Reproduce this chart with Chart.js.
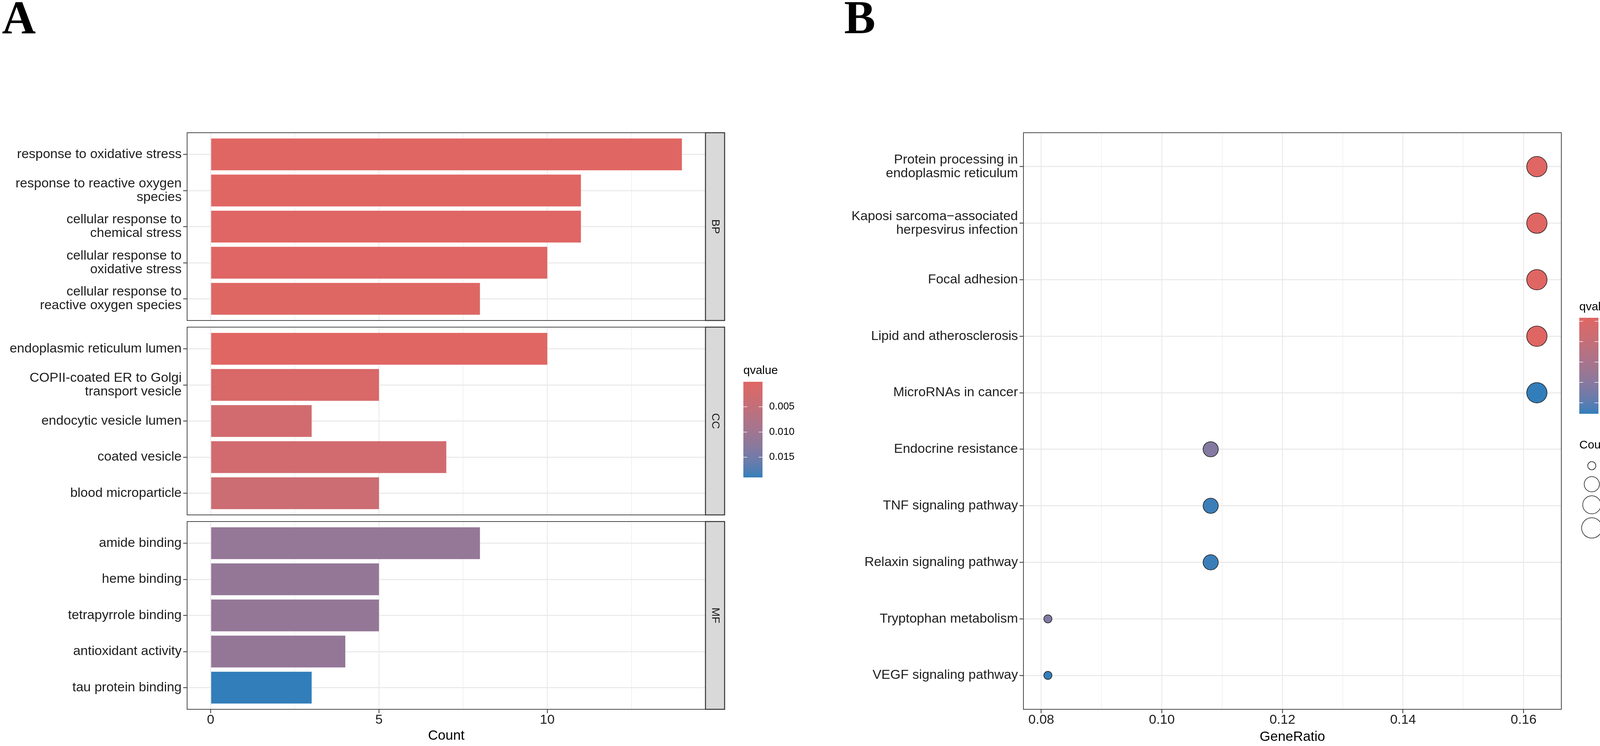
<!DOCTYPE html>
<html>
<head>
<meta charset="utf-8">
<script src="https://cdn.jsdelivr.net/npm/chart.js@4.4.1/dist/chart.umd.min.js"></script>
<style>
html,body{margin:0;padding:0;background:#ffffff;width:4211px;height:1911px;overflow:hidden;}
canvas{position:absolute;left:0;top:0;}
</style>
</head>
<body>
<canvas id="bp" width="4211" height="1911"></canvas>
<canvas id="cc" width="4211" height="1911"></canvas>
<canvas id="mf" width="4211" height="1911"></canvas>
<canvas id="kegg" width="4211" height="1911"></canvas>
<script>
// ================= DATA =================
// Panel A – GO enrichment (facets BP / CC / MF)
const bpTerms = ["response to oxidative stress", "response to reactive oxygen\nspecies", "cellular response to\nchemical stress", "cellular response to\noxidative stress", "cellular response to\nreactive oxygen species"];
const bpCounts = [14, 11, 11, 10, 8];
const bpQvalues = [0.00005, 0.00012, 0.00018, 0.0002, 0.00035];

const ccTerms = ["endoplasmic reticulum lumen", "COPII-coated ER to Golgi\ntransport vesicle", "endocytic vesicle lumen", "coated vesicle", "blood microparticle"];
const ccCounts = [10, 5, 3, 7, 5];
const ccQvalues = [0.00008, 0.0012, 0.0027, 0.0027, 0.0035];

const mfTerms = ["amide binding", "heme binding", "tetrapyrrole binding", "antioxidant activity", "tau protein binding"];
const mfCounts = [8, 5, 5, 4, 3];
const mfQvalues = [0.0113, 0.0114, 0.0114, 0.0115, 0.0190];

const countTicks = [0, 5, 10];
const countMinorTicks = [2.5, 7.5, 12.5];
const goQTicks = [0.005, 0.010, 0.015];

// Panel B – KEGG enrichment
const keggTerms = ["Protein processing in\nendoplasmic reticulum", "Kaposi sarcoma\u2212associated\nherpesvirus infection", "Focal adhesion", "Lipid and atherosclerosis", "MicroRNAs in cancer", "Endocrine resistance", "TNF signaling pathway", "Relaxin signaling pathway", "Tryptophan metabolism", "VEGF signaling pathway"];
const keggGeneRatio = [0.1622, 0.1622, 0.1622, 0.1622, 0.1622, 0.1081, 0.1081, 0.1081, 0.0811, 0.0811];
const keggCounts = [6, 6, 6, 6, 6, 4, 4, 4, 3, 3];
const keggQvalues = [0.00707, 0.00707, 0.00708, 0.00709, 0.01885, 0.0153, 0.0186, 0.0186, 0.0156, 0.0188];

const ratioTicks = [0.08, 0.10, 0.12, 0.14, 0.16];
const ratioMinorTicks = [0.09, 0.11, 0.13, 0.15];
const keggQTicks = [0.0075, 0.0100, 0.0125, 0.0150, 0.0175];
const sizeLegendCounts = [3, 4, 5, 6];

// ================= STYLE HELPERS =================
const FONT = '"Liberation Sans", Arial, Helvetica, sans-serif';
const TEXT = '#1e1e1e';
const GRID = '#ebebeb';
const AXIS = '#333333';
const W = 4211, H = 1911;

// ggplot-like gradient (Lab interpolation) from low "#e06663" to high "#327eba"
function hexToRgb(h){h=h.replace('#','');return [0,2,4].map(i=>parseInt(h.substr(i,2),16));}
function toLin(c){c/=255;return c<=0.04045?c/12.92:Math.pow((c+0.055)/1.055,2.4);}
function toSrgb(v){v=v<=0.0031308?12.92*v:1.055*Math.pow(v,1/2.4)-0.055;return Math.round(Math.min(1,Math.max(0,v))*255);}
const WX=0.95047, WY=1.0, WZ=1.08883;
function fLab(t){return t>0.008856?Math.cbrt(t):7.787*t+16/116;}
function fInv(t){const t3=t*t*t;return t3>0.008856?t3:(t-16/116)/7.787;}
function rgbToLab(rgb){
  const [r,g,b]=rgb.map(toLin);
  const X=(0.4124564*r+0.3575761*g+0.1804375*b)/WX;
  const Y=(0.2126729*r+0.7151522*g+0.0721750*b)/WY;
  const Z=(0.0193339*r+0.1191920*g+0.9503041*b)/WZ;
  const fx=fLab(X),fy=fLab(Y),fz=fLab(Z);
  return [116*fy-16,500*(fx-fy),200*(fy-fz)];
}
function labToRgb(lab){
  const [L,a,b]=lab;
  const fy=(L+16)/116,fx=fy+a/500,fz=fy-b/200;
  const X=fInv(fx)*WX,Y=fInv(fy)*WY,Z=fInv(fz)*WZ;
  const r=3.2404542*X-1.5371385*Y-0.4985314*Z;
  const g=-0.9692660*X+1.8760108*Y+0.0415560*Z;
  const bb=0.0556434*X-0.2040259*Y+1.0572252*Z;
  return [toSrgb(r),toSrgb(g),toSrgb(bb)];
}
const LOW_LAB=rgbToLab(hexToRgb('#e06663')), HIGH_LAB=rgbToLab(hexToRgb('#327eba'));
function gradColor(t){
  t=Math.max(0,Math.min(1,t));
  const lab=LOW_LAB.map((v,i)=>v+(HIGH_LAB[i]-v)*t);
  const [r,g,b]=labToRgb(lab);
  return `rgb(${r},${g},${b})`;
}

// ggplot scale_size(range = c(3, 8)) style radius for count
function makeRadius(cmin, cmax){
  return c => {
    const t = cmax===cmin ? 1 : (c-cmin)/(cmax-cmin);
    const size = 3 + 5*Math.sqrt(t);
    return 1.1*(size*2.845 + 0.945);
  };
}

function drawColorbar(ctx, o){
  ctx.save();
  ctx.fillStyle='#000'; ctx.font=`30px ${FONT}`; ctx.textAlign='left'; ctx.textBaseline='alphabetic';
  ctx.fillText('qvalue', o.x, o.titleBase);
  const g=ctx.createLinearGradient(0,o.top,0,o.top+o.h);
  for(let i=0;i<=30;i++) g.addColorStop(i/30, gradColor(i/30));
  ctx.fillStyle=g; ctx.fillRect(o.x,o.top,o.w,o.h);
  ctx.strokeStyle='rgba(255,255,255,0.9)'; ctx.lineWidth=1.5;
  ctx.font=`26px ${FONT}`; ctx.textBaseline='middle'; ctx.fillStyle='#000';
  o.ticks.forEach(q=>{
    const y=o.top+(q-o.qmin)/(o.qmax-o.qmin)*o.h;
    ctx.beginPath();
    ctx.moveTo(o.x,y); ctx.lineTo(o.x+o.w/5,y);
    ctx.moveTo(o.x+o.w-o.w/5,y); ctx.lineTo(o.x+o.w,y);
    ctx.stroke();
    ctx.fillText(o.fmt(q), o.labelX, y);
  });
  ctx.restore();
}

function framePlugin(id, strip, extra){
  return {
    id,
    afterDraw(chart){
      const ctx=chart.ctx, a=chart.chartArea;
      ctx.save();
      ctx.strokeStyle='#4a4a4a'; ctx.lineWidth=2;
      ctx.strokeRect(a.left,a.top,a.right-a.left,a.bottom-a.top);
      if(strip){
        const sw=49;
        ctx.fillStyle='#d9d9d9';
        ctx.fillRect(a.right,a.top,sw,a.bottom-a.top);
        ctx.strokeStyle='#333333'; ctx.lineWidth=2.5;
        ctx.strokeRect(a.right,a.top,sw,a.bottom-a.top);
        ctx.translate(a.right+sw/2,(a.top+a.bottom)/2);
        ctx.rotate(Math.PI/2);
        ctx.fillStyle='#1a1a1a'; ctx.font=`28px ${FONT}`;
        ctx.textAlign='center'; ctx.textBaseline='middle';
        ctx.fillText(strip,0,0);
      }
      ctx.restore();
      if(extra) extra(ctx, chart);
    }
  };
}

function catAxis(labels, width){
  return {
    type:'linear', position:'left', reverse:true, bounds:'data', offset:false,
    min:-0.6, max:labels.length-1+0.6,
    afterBuildTicks: s => { s.ticks = labels.map((_,i)=>({value:i})); },
    afterFit: s => { s.width = width; },
    ticks:{autoSkip:false, color:TEXT, padding:4, font:{family:FONT,size:34,lineHeight:1.03},
      callback: v => (labels[v]!==undefined ? labels[v].split('\n') : '')},
    grid:{color:GRID, lineWidth:3, offset:false, drawTicks:true, tickLength:10, tickColor:AXIS, tickWidth:2},
    border:{display:false}
  };
}

function valueAxis(o){
  const all=[...o.major,...o.minor].sort((a,b)=>a-b);
  const isMajor = v => o.major.some(m=>Math.abs(m-v)<1e-9);
  return {
    type:'linear', position:'bottom', bounds:'data', min:o.min, max:o.max,
    afterBuildTicks: s => { s.ticks = all.map(v=>({value:v})); },
    afterFit: s => { s.height = o.height; },
    ticks:{display:o.show, autoSkip:false, maxRotation:0, minRotation:0, color:TEXT, padding:1,
      font:{family:FONT,size:34,lineHeight:1.0},
      callback: v => isMajor(v) ? o.fmt(v) : ''},
    grid:{color:GRID, lineWidth: c => isMajor(c.tick.value)?2.5:1.3, drawTicks:o.show, tickLength:10,
      tickColor: c => isMajor(c.tick.value)?AXIS:'rgba(0,0,0,0)', tickWidth:2},
    border:{display:false},
    title:{display:!!o.title, text:o.title||'', color:'#000', font:{family:FONT,size:35,lineHeight:1.2}, padding:{top:0,bottom:o.titlePad||0}}
  };
}

const baseOptions = {
  responsive:false, maintainAspectRatio:false, animation:false, devicePixelRatio:1, events:[],
  plugins:{legend:{display:false}, tooltip:{enabled:false}}
};

// ================= PANEL A =================
const goAllCounts=[...bpCounts,...ccCounts,...mfCounts];
const goAllQ=[...bpQvalues,...ccQvalues,...mfQvalues];
const goQmin=Math.min(...goAllQ), goQmax=Math.max(...goAllQ);
const cMax=Math.max(...goAllCounts), cMin=Math.min(0,...goAllCounts);
const cPad=(cMax-cMin)*0.05;
const countRange=[cMin-cPad, cMax+cPad];

const A_LEFT=479, A_RIGHT=1806;
const facets=[
  {id:'bp', terms:bpTerms, counts:bpCounts, q:bpQvalues, strip:'BP', top:340, bottom:821, last:false},
  {id:'cc', terms:ccTerms, counts:ccCounts, q:ccQvalues, strip:'CC', top:838, bottom:1319, last:false},
  {id:'mf', terms:mfTerms, counts:mfCounts, q:mfQvalues, strip:'MF', top:1336, bottom:1817, last:true}
];

facets.forEach(f=>{
  let extra=null;
  if(f.id==='bp'){
    extra=(ctx)=>{
      ctx.save(); ctx.fillStyle='#000'; ctx.font='bold 120px "Liberation Serif", "Times New Roman", serif';
      ctx.textAlign='left'; ctx.textBaseline='alphabetic'; ctx.fillText('A',5,85); ctx.restore();
    };
  }
  if(f.id==='cc'){
    extra=(ctx)=>drawColorbar(ctx,{x:1903, top:978, w:49, h:245, titleBase:958, labelX:1969,
      qmin:goQmin, qmax:goQmax, ticks:goQTicks, fmt:q=>q.toFixed(3)});
  }
  new Chart(document.getElementById(f.id),{
    type:'bar',
    data:{datasets:[{
      data:f.counts.map((c,i)=>({x:c,y:i})),
      backgroundColor: ctx => gradColor((f.q[ctx.dataIndex]-goQmin)/(goQmax-goQmin)),
      borderWidth:0, categoryPercentage:0.88, barPercentage:1.0
    }]},
    options:Object.assign({}, baseOptions, {
      indexAxis:'y',
      layout:{padding:{left:0, top:f.top, right:W-A_RIGHT, bottom:0}},
      scales:{
        y: catAxis(f.terms, A_LEFT),
        x: valueAxis({min:countRange[0], max:countRange[1], major:countTicks, minor:countMinorTicks,
             show:f.last, height:H-f.bottom, fmt:v=>String(v), title:f.last?'Count':'', titlePad:5})
      }
    }),
    plugins:[framePlugin('frame_'+f.id, f.strip, extra)]
  });
});

// ================= PANEL B =================
const B_LEFT=2620, B_RIGHT=3997, B_TOP=340, B_BOTTOM=1817;
const rMin=Math.min(...keggGeneRatio), rMax=Math.max(...keggGeneRatio);
const rPad=(rMax-rMin)*0.05;
const kQmin=Math.min(...keggQvalues), kQmax=Math.max(...keggQvalues);
const radiusFor=makeRadius(Math.min(...keggCounts), Math.max(...keggCounts));

function drawKeggLegends(ctx){
  ctx.save(); ctx.fillStyle='#000'; ctx.font='bold 120px "Liberation Serif", "Times New Roman", serif';
  ctx.textAlign='left'; ctx.textBaseline='alphabetic'; ctx.fillText('B',2161,85); ctx.restore();
  drawColorbar(ctx,{x:4043, top:814, w:49, h:246, titleBase:795, labelX:4108,
    qmin:kQmin, qmax:kQmax, ticks:keggQTicks, fmt:q=>q.toFixed(4)});
  ctx.save();
  ctx.fillStyle='#000'; ctx.font=`30px ${FONT}`; ctx.textAlign='left'; ctx.textBaseline='alphabetic';
  ctx.fillText('Count',4043,1149);
  let y=1170;
  ctx.font=`26px ${FONT}`; ctx.textBaseline='middle';
  sizeLegendCounts.forEach(c=>{
    const r=radiusFor(c);
    const kh=Math.max(2*r+10,46);
    const cy=y+kh/2;
    ctx.beginPath(); ctx.arc(4075,cy,r,0,Math.PI*2);
    ctx.strokeStyle='#1a1a1a'; ctx.lineWidth=1.5; ctx.stroke();
    ctx.fillStyle='#000'; ctx.fillText(String(c),4123,cy);
    y+=kh;
  });
  ctx.restore();
}

new Chart(document.getElementById('kegg'),{
  type:'scatter',
  data:{datasets:[{
    data:keggGeneRatio.map((x,i)=>({x:x,y:i})),
    pointBackgroundColor: ctx => gradColor((keggQvalues[ctx.dataIndex]-kQmin)/(kQmax-kQmin)),
    pointBorderColor:'#1a1a1a', pointBorderWidth:1.5,
    pointRadius: ctx => radiusFor(keggCounts[ctx.dataIndex]),
    pointHoverRadius: ctx => radiusFor(keggCounts[ctx.dataIndex])
  }]},
  options:Object.assign({}, baseOptions, {
    layout:{padding:{left:0, top:B_TOP, right:W-B_RIGHT, bottom:0}},
    scales:{
      y: catAxis(keggTerms, B_LEFT),
      x: valueAxis({min:rMin-rPad, max:rMax+rPad, major:ratioTicks, minor:ratioMinorTicks,
           show:true, height:H-B_BOTTOM, fmt:v=>v.toFixed(2), title:'GeneRatio', titlePad:2})
    }
  }),
  plugins:[framePlugin('frame_kegg', null, drawKeggLegends)]
});
</script>
</body>
</html>
